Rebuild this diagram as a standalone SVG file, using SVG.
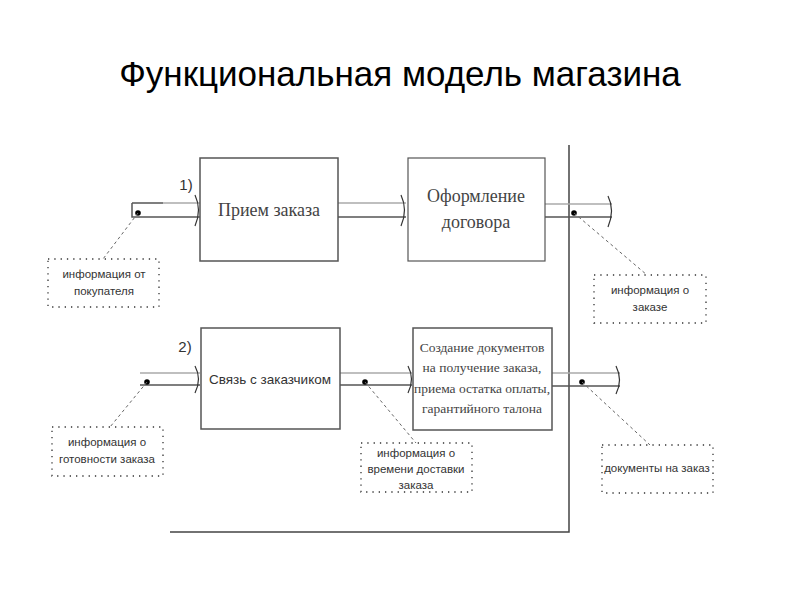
<svg xmlns="http://www.w3.org/2000/svg" width="800" height="600" viewBox="0 0 800 600">
<style>
.title{font-family:"Liberation Sans",Arial,sans-serif;font-size:35px;fill:#000}
.box{fill:#fff;stroke:#555;stroke-width:1.5}
.serif{font-family:"Liberation Serif","Times New Roman",serif;fill:#444;text-anchor:middle}
.sans{font-family:"Liberation Sans",Arial,sans-serif;fill:#333;text-anchor:middle}
.note{fill:#fff;stroke:#333;stroke-width:1.3;stroke-dasharray:1.3,5}
.pt{stroke:#aaa;stroke-width:1.3;fill:none}
.pb{stroke:#555;stroke-width:1.5;fill:none}
.chev{stroke:#333;stroke-width:1.2;fill:none}
.lead{stroke:#666;stroke-width:1;stroke-dasharray:3,3;fill:none}
.dot{fill:#000}
.frame{stroke:#444;stroke-width:1.5;fill:none}
</style>
<text class="title" x="400" y="86" text-anchor="middle">Функциональная модель магазина</text>

<g id="frame">
<path class="frame" d="M569,145 V532 H170"/>
</g>

<g id="connectors">
<!-- row 1 input -->
<path class="pb" d="M132,203 V217 H200"/>
<path class="pb" d="M132,203 H163"/>
<path class="pt" d="M163,203 H200"/>
<path class="chev" d="M195,195 Q202,210 195,226"/>
<circle class="dot" cx="138" cy="213" r="2.8"/>
<path class="lead" d="M138,213 L103,259"/>
<!-- row 1 middle -->
<path class="pt" d="M338,203 H406"/>
<path class="pb" d="M338,217 H406"/>
<path class="chev" d="M401,195 Q408,210 401,226"/>
<!-- row 1 output -->
<path class="pt" d="M545,204 H612"/>
<path class="pb" d="M545,217 H612"/>
<path class="chev" d="M608,196 Q615,210 608,227"/>
<circle class="dot" cx="574" cy="213" r="2.8"/>
<path class="lead" d="M574,213 L647,275"/>
<!-- row 2 input -->
<path class="pt" d="M140,373 H200"/>
<path class="pb" d="M140,385 H200"/>
<path class="chev" d="M195,366 Q202,379 195,393"/>
<circle class="dot" cx="147" cy="382" r="2.8"/>
<path class="lead" d="M147,382 L110,427"/>
<!-- row 2 middle -->
<path class="pt" d="M340,373 H412"/>
<path class="pb" d="M340,385 H412"/>
<path class="chev" d="M408,366 Q415,379 408,393"/>
<circle class="dot" cx="365" cy="382" r="2.8"/>
<path class="lead" d="M365,382 L416,443"/>
<!-- row 2 output -->
<path class="pt" d="M552,373 H620"/>
<path class="pb" d="M552,386 H620"/>
<path class="chev" d="M616,366 Q623,380 616,394"/>
<circle class="dot" cx="582" cy="382" r="2.8"/>
<path class="lead" d="M582,382 L650,445"/>
</g>

<g id="label1"><text class="sans" x="186" y="190" font-size="15" fill="#000">1)</text></g>
<g id="label2"><text class="sans" x="185" y="352" font-size="15" fill="#000">2)</text></g>

<g id="n-priem">
<rect class="box" x="200" y="158" width="138" height="103"/>
<text class="serif" x="269" y="216" font-size="18">Прием заказа</text>
</g>
<g id="n-oform">
<rect class="box" x="408" y="158" width="137" height="103" style="stroke-width:1.2"/>
<text class="serif" x="476" y="202" font-size="18">Оформление</text>
<text class="serif" x="476" y="228" font-size="18">договора</text>
</g>
<g id="n-svyaz">
<rect class="box" x="201" y="328" width="139" height="101"/>
<text class="sans" x="270" y="384" font-size="13.5" fill="#222">Связь с заказчиком</text>
</g>
<g id="n-sozd">
<rect class="box" x="413" y="328" width="139" height="102"/>
<text class="serif" x="482" y="352" font-size="13.5">Создание документов</text>
<text class="serif" x="482" y="372" font-size="13.5">на получение заказа,</text>
<text class="serif" x="482" y="393" font-size="13.5">приема остатка оплаты,</text>
<text class="serif" x="482" y="413" font-size="13.5">гарантийного талона</text>
</g>

<g id="note-pokup">
<rect class="note" x="48" y="259" width="111" height="48"/>
<text class="sans" x="104" y="278" font-size="11.5">информация от</text>
<text class="sans" x="104" y="295" font-size="11.5">покупателя</text>
</g>
<g id="note-zakaz">
<rect class="note" x="594" y="275" width="112" height="48"/>
<text class="sans" x="650" y="294" font-size="11.5">информация о</text>
<text class="sans" x="650" y="311" font-size="11.5">заказе</text>
</g>
<g id="note-gotov">
<rect class="note" x="52" y="427" width="111" height="49"/>
<text class="sans" x="107" y="446" font-size="11.5">информация о</text>
<text class="sans" x="107" y="463" font-size="11.5">готовности заказа</text>
</g>
<g id="note-vremya">
<rect class="note" x="361" y="443" width="111" height="49"/>
<text class="sans" x="416" y="457" font-size="11.5">информация о</text>
<text class="sans" x="416" y="473" font-size="11.5">времени доставки</text>
<text class="sans" x="416" y="489" font-size="11.5">заказа</text>
</g>
<g id="note-docs">
<rect class="note" x="602" y="445" width="111" height="48"/>
<text class="sans" x="657" y="472" font-size="11.5">документы на заказ</text>
</g>
</svg>
